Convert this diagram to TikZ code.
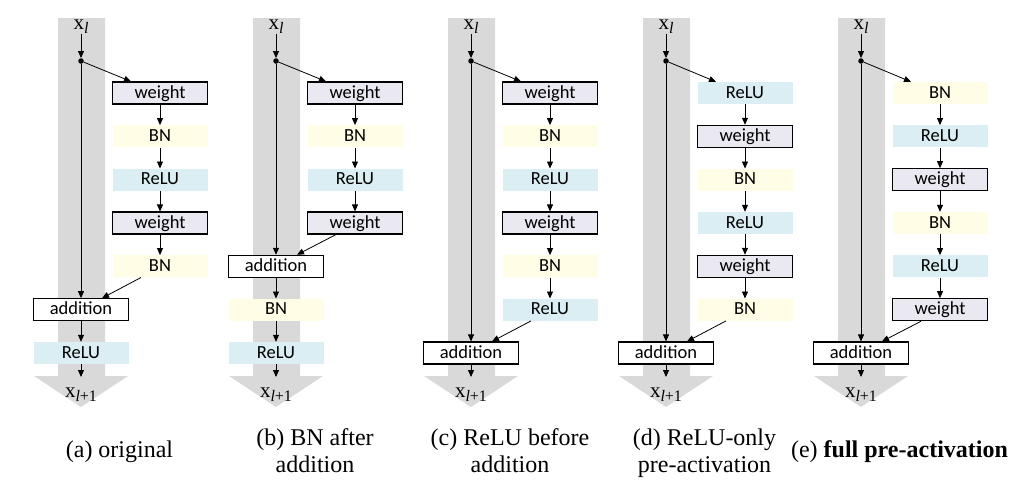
\documentclass[tikz,border=0pt]{standalone}
\usepackage{fontspec}
\setmainfont{Liberation Serif}
\newfontfamily\boxfont{Carlito}
\usetikzlibrary{arrows.meta,calc}
\definecolor{bandgray}{RGB}{217,217,217}
\definecolor{wfill}{RGB}{234,232,240}
\definecolor{bnfill}{RGB}{255,253,230}
\definecolor{relufill}{RGB}{218,238,243}
\newcommand\mkpanel[2]{%
  \fill[bandgray] (#2-23,18) -- (#2+24,18) -- (#2+24,376) -- (#2+47,376) -- (#2,407) -- (#2-47,376) -- (#2-23,376) -- cycle;
  \node[lbl] (#1in) at (#2,29) {x\raisebox{-4pt}{\fontsize{16}{16}\selectfont\itshape l}};
  \node[dotn] (#1dot) at (#2,61) {};
  \draw[arr] (#1in) -- (#1dot);
  \coordinate (#1end) at (#2,377);
  \node[lbl] (#1out) at (#2,397) {x\raisebox{-4pt}{\fontsize{16}{16}\selectfont\itshape l\upshape+1}};
}
\tikzset{
  boxbase/.style={minimum width=95pt, minimum height=22pt, inner sep=0pt, text height=13pt, text depth=3pt, font=\boxfont\fontsize{18.5}{18.5}\selectfont},
  wbox/.style={boxbase, draw=black, line width=1.1pt, fill=wfill},
  bnbox/.style={boxbase, fill=bnfill},
  relubox/.style={boxbase, fill=relufill},
  addbox/.style={boxbase, draw=black, line width=1.1pt, fill=white},
  dotn/.style={circle, fill=black, minimum size=5.5pt, inner sep=0pt},
  arr/.style={-{Triangle[length=7pt,width=6pt]}, line width=0.8pt},
  lbl/.style={anchor=base, inner sep=0.5pt, font=\fontsize{21}{21}\selectfont},
  captxt/.style={anchor=base, inner sep=0pt, align=center, font=\fontsize{24}{27}\selectfont}
}
\begin{document}
\begin{tikzpicture}[x=1pt,y=-1pt]
\useasboundingbox (0,0) rectangle (1030,493);
% ---------- (a) ----------
\mkpanel{a}{81}
\node[wbox]    (a0) at (160,93)    {weight};
\node[bnbox]   (a1) at (160,136.3) {BN};
\node[relubox] (a2) at (160,179.7) {ReLU};
\node[wbox]    (a3) at (160,223)   {weight};
\node[bnbox]   (a4) at (160,266.3) {BN};
\node[addbox]  (aadd) at (81,309.7) {addition};
\node[relubox] (a6) at (81,353)    {ReLU};
\draw[arr] (adot) -- ($(a0.north)+(-29,0)$);
\draw[arr] (a0) -- (a1);
\draw[arr] (a1) -- (a2);
\draw[arr] (a2) -- (a3);
\draw[arr] (a3) -- (a4);
\draw[arr] ($(a4.south)+(-19,0)$) -- ($(aadd.north)+(21,0)$);
\draw[arr] (adot) -- (aadd);
\draw[arr] (aadd) -- (a6);
\draw[arr] (a6) -- (aend);
% ---------- (b) ----------
\mkpanel{b}{276}
\node[wbox]    (b0) at (355,93)    {weight};
\node[bnbox]   (b1) at (355,136.3) {BN};
\node[relubox] (b2) at (355,179.7) {ReLU};
\node[wbox]    (b3) at (355,223)   {weight};
\node[addbox]  (badd) at (276,266.3) {addition};
\node[bnbox]   (b5) at (276,309.7) {BN};
\node[relubox] (b6) at (276,353)   {ReLU};
\draw[arr] (bdot) -- ($(b0.north)+(-29,0)$);
\draw[arr] (b0) -- (b1);
\draw[arr] (b1) -- (b2);
\draw[arr] (b2) -- (b3);
\draw[arr] ($(b3.south)+(-19,0)$) -- ($(badd.north)+(21,0)$);
\draw[arr] (bdot) -- (badd);
\draw[arr] (badd) -- (b5);
\draw[arr] (b5) -- (b6);
\draw[arr] (b6) -- (bend);
% ---------- (c) ----------
\mkpanel{c}{471}
\node[wbox]    (c0) at (550,93)    {weight};
\node[bnbox]   (c1) at (550,136.3) {BN};
\node[relubox] (c2) at (550,179.7) {ReLU};
\node[wbox]    (c3) at (550,223)   {weight};
\node[bnbox]   (c4) at (550,266.3) {BN};
\node[relubox] (c5) at (550,309.7) {ReLU};
\node[addbox]  (cadd) at (471,353) {addition};
\draw[arr] (cdot) -- ($(c0.north)+(-29,0)$);
\draw[arr] (c0) -- (c1);
\draw[arr] (c1) -- (c2);
\draw[arr] (c2) -- (c3);
\draw[arr] (c3) -- (c4);
\draw[arr] (c4) -- (c5);
\draw[arr] ($(c5.south)+(-19,0)$) -- ($(cadd.north)+(21,0)$);
\draw[arr] (cdot) -- (cadd);
\draw[arr] (cadd) -- (cend);
% ---------- (d) ----------
\mkpanel{d}{666}
\node[relubox] (d0) at (745,93)    {ReLU};
\node[wbox]    (d1) at (745,136.3) {weight};
\node[bnbox]   (d2) at (745,179.7) {BN};
\node[relubox] (d3) at (745,223)   {ReLU};
\node[wbox]    (d4) at (745,266.3) {weight};
\node[bnbox]   (d5) at (745,309.7) {BN};
\node[addbox]  (dadd) at (666,353) {addition};
\draw[arr] (ddot) -- ($(d0.north)+(-29,0)$);
\draw[arr] (d0) -- (d1);
\draw[arr] (d1) -- (d2);
\draw[arr] (d2) -- (d3);
\draw[arr] (d3) -- (d4);
\draw[arr] (d4) -- (d5);
\draw[arr] ($(d5.south)+(-19,0)$) -- ($(dadd.north)+(21,0)$);
\draw[arr] (ddot) -- (dadd);
\draw[arr] (dadd) -- (dend);
% ---------- (e) ----------
\mkpanel{e}{861}
\node[bnbox]   (e0) at (940,93)    {BN};
\node[relubox] (e1) at (940,136.3) {ReLU};
\node[wbox]    (e2) at (940,179.7) {weight};
\node[bnbox]   (e3) at (940,223)   {BN};
\node[relubox] (e4) at (940,266.3) {ReLU};
\node[wbox]    (e5) at (940,309.7) {weight};
\node[addbox]  (eadd) at (861,353) {addition};
\draw[arr] (edot) -- ($(e0.north)+(-29,0)$);
\draw[arr] (e0) -- (e1);
\draw[arr] (e1) -- (e2);
\draw[arr] (e2) -- (e3);
\draw[arr] (e3) -- (e4);
\draw[arr] (e4) -- (e5);
\draw[arr] ($(e5.south)+(-19,0)$) -- ($(eadd.north)+(21,0)$);
\draw[arr] (edot) -- (eadd);
\draw[arr] (eadd) -- (eend);
% ---------- captions ----------
\node[captxt] (capa) at (119.5,457.5) {(a) original};
\node[captxt] (capb) at (315,472) {(b) BN after\\addition};
\node[captxt] (capc) at (510,472) {(c) ReLU before\\addition};
\node[captxt] (capd) at (704.5,472) {(d) ReLU-only\\pre-activation};
\node[captxt] (cape) at (899.5,457.5) {(e) \textbf{full pre-activation}};
\end{tikzpicture}
\end{document}
